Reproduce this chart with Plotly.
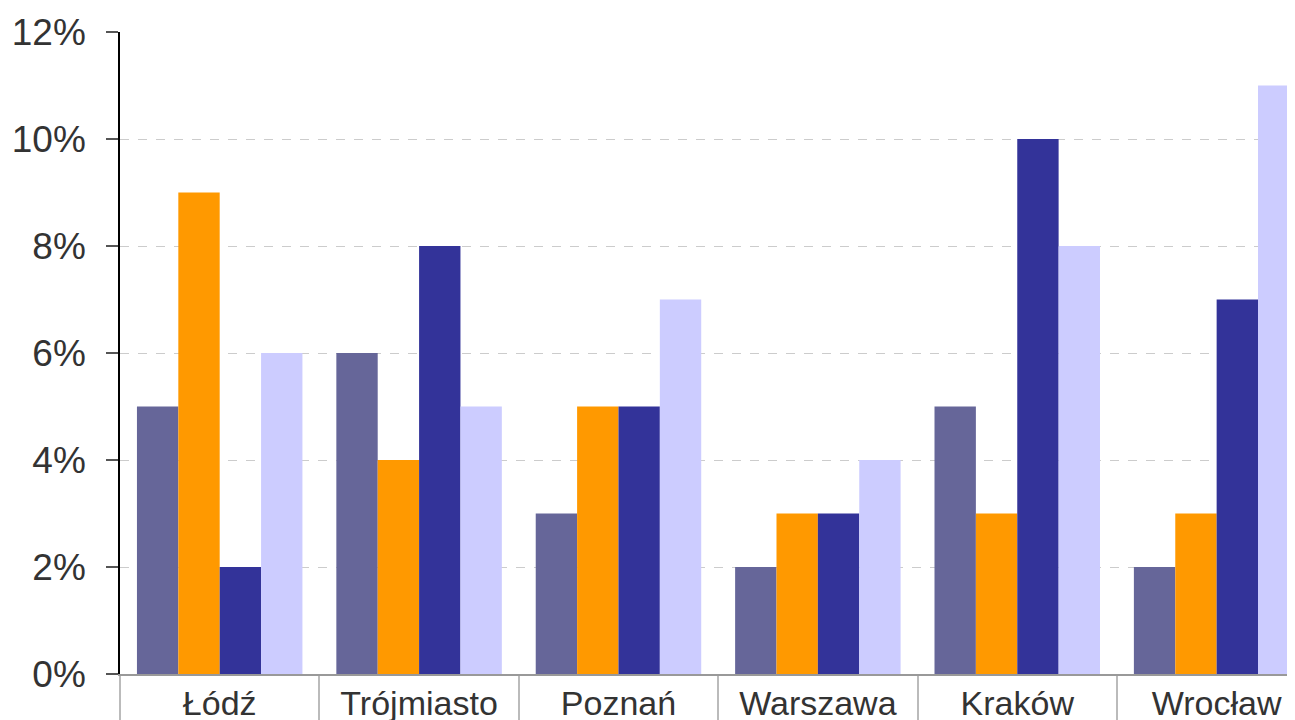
import plotly.graph_objects as go

categories = ["Łódź", "Trójmiasto", "Poznań", "Warszawa", "Kraków", "Wrocław"]
series_a = [5, 6, 3, 2, 5, 2]
series_b = [9, 4, 5, 3, 3, 3]
series_c = [2, 8, 5, 3, 10, 7]
series_d = [6, 5, 7, 4, 8, 11]
series_names = ["Seria 1", "Seria 2", "Seria 3", "Seria 4"]
colors = ["#666699", "#FF9900", "#333399", "#CCCCFF"]
y_ticks = [0, 2, 4, 6, 8, 10, 12]
y_tick_labels = [f"{v}%" for v in y_ticks]

fig = go.Figure()
for name, vals, col in zip(series_names, [series_a, series_b, series_c, series_d], colors):
    fig.add_trace(go.Bar(x=categories, y=vals, name=name, marker=dict(color=col, line=dict(width=0))))

fig.update_layout(
    width=1287, height=712,
    margin=dict(l=112, r=0, t=24, b=46),
    paper_bgcolor="white", plot_bgcolor="white",
    barmode="group", bargap=0.17, bargroupgap=0,
    showlegend=False,
    font=dict(family="Liberation Sans, Arial, sans-serif", color="#333333"),
)
fig.update_xaxes(
    type="category", automargin=False,
    range=[-0.5, 5.393],
    showline=True, linecolor="#999999", linewidth=2,
    ticks="outside", tickson="boundaries", ticklen=60, tickcolor="#bbbbbb", tickwidth=2,
    ticklabelstandoff=-2,
    tickfont=dict(size=34, color="#333333"),
    showgrid=False,
)
fig.update_yaxes(
    automargin=False,
    range=[0, 12],
    tickmode="array", tickvals=y_ticks, ticktext=y_tick_labels,
    showline=True, linecolor="#000000", linewidth=1.5,
    ticks="outside", ticklen=12, tickcolor="#555555", tickwidth=1.5,
    ticklabelstandoff=13,
    tickfont=dict(size=37, color="#333333"),
    showgrid=True, gridcolor="#cccccc", griddash="dash", gridwidth=1,
    zeroline=False,
)
fig.write_html("out.html")
